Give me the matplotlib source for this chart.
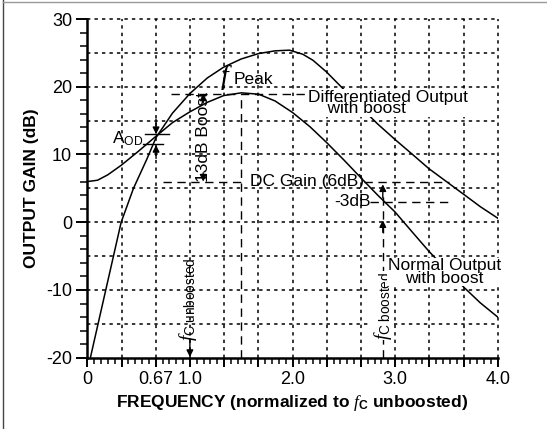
import numpy as np
import matplotlib
matplotlib.use('Agg')
import matplotlib.pyplot as plt
from matplotlib.lines import Line2D

plt.rcParams['font.family'] = ['Liberation Sans', 'DejaVu Sans']
plt.rcParams['mathtext.fontset'] = 'custom'
plt.rcParams['mathtext.rm'] = 'Liberation Sans'
plt.rcParams['mathtext.it'] = 'Liberation Serif:italic'
plt.rcParams['mathtext.bf'] = 'Liberation Sans:bold'

# ---------------- data ----------------
normal_x = [0.00, 0.10, 0.20, 0.33, 0.50, 0.67, 0.83, 1.00, 1.17, 1.33, 1.50, 1.67,
            1.83, 2.00, 2.17, 2.33, 2.50, 2.67, 2.83, 3.00, 3.17, 3.33, 3.50, 3.67,
            3.83, 4.00]
normal_db = [6.0, 6.2, 7.0, 8.4, 10.5, 12.7, 14.7, 16.3, 17.7, 18.7, 19.1, 18.9,
             17.9, 16.2, 14.1, 11.8, 9.2, 6.5, 4.0, 1.5, -1.5, -4.3, -7.0, -9.6,
             -11.9, -14.0]

diff_x = [0.03, 0.18, 0.33, 0.45, 0.58, 0.67, 0.83, 1.00, 1.17, 1.33, 1.50, 1.67,
          1.83, 1.97, 2.10, 2.20, 2.33, 2.50, 2.67, 2.83, 3.00, 3.17, 3.33, 3.50,
          3.67, 3.83, 4.00]
diff_db = [-20.0, -10.0, 0.0, 5.0, 9.3, 12.5, 16.1, 19.0, 21.3, 22.9, 24.1, 24.9,
           25.3, 25.4, 24.8, 23.9, 22.2, 19.6, 16.9, 14.5, 12.2, 10.0, 7.9, 6.0,
           4.1, 2.3, 0.6]

x_tick_pos = [0, 1/3, 2/3, 1, 4/3, 5/3, 2, 7/3, 8/3, 3, 10/3, 11/3, 4]
x_tick_labels = ['0', '', '0.67', '1.0', '', '', '2.0', '', '', '3.0', '', '', '4.0']
y_tick_pos = [-20, -10, 0, 10, 20, 30]
y_tick_labels = ['-20', '-10', '0', '10', '20', '30']
y_grid = [-15, -10, -5, 0, 5, 10, 15, 20, 25, 30]

dc_gain = 6.0
peak_gain = 19.0
minus3_gain = 3.0
f_peak = 1.5
fc_unboosted = 1.0
fc_boosted = 2.88

# ---------------- figure ----------------
fig = plt.figure(figsize=(5.47, 4.29), dpi=100)
ax = fig.add_axes([0.1596, 0.1662, 0.7503, 0.7895])
ax.set_xlim(0, 4)
ax.set_ylim(-20, 30)

grid_kw = dict(color='black', lw=1.1, ls=(0, (2.2, 2.7)), zorder=1, clip_on=False)
for v in y_grid:
    ax.axhline(v, **grid_kw)
for v in x_tick_pos[1:]:
    ax.axvline(v, **grid_kw)

ax.plot(normal_x, normal_db, color='black', lw=1.1, zorder=3)
ax.plot(diff_x, diff_db, color='black', lw=1.1, zorder=3)

for s in ['top', 'right']:
    ax.spines[s].set_visible(False)
for s in ['left', 'bottom']:
    ax.spines[s].set_linewidth(1.8)
    ax.spines[s].set_zorder(4)

ax.set_xticks(x_tick_pos)
ax.set_xticklabels(x_tick_labels)
ax.set_xticks(np.arange(0, 4.0001, 1/15), minor=True)
ax.set_yticks(y_tick_pos)
ax.set_yticklabels(y_tick_labels)
ax.set_yticks(np.arange(-20, 30.1, 2), minor=True)
ax.tick_params(axis='x', which='major', direction='out', length=6.5, width=1.4,
               pad=3, labelsize=13)
ax.tick_params(axis='x', which='minor', direction='out', length=4, width=1.1)
ax.tick_params(axis='y', which='major', direction='out', length=8, width=1.4,
               pad=3, labelsize=13)
ax.tick_params(axis='y', which='minor', direction='out', length=5, width=1.1)

ax.set_xlabel(r'FREQUENCY (normalized to $f_{\mathbf{C}}$ unboosted)',
              fontsize=12.5, fontweight='bold', labelpad=4)
ax.set_ylabel('OUTPUT GAIN (dB)', fontsize=12.5, fontweight='bold', labelpad=5)

arrow_kw = dict(arrowstyle='-|>', color='black', lw=1.0, mutation_scale=10,
                shrinkA=0, shrinkB=0)
dash_kw = dict(color='black', lw=1.0, ls=(0, (6, 4)), zorder=2)
white_box = dict(facecolor='white', edgecolor='none', pad=0.3)

# A_OD annotation
ax.annotate('', xy=(0.67, 13.0), xytext=(0.67, 15.2), arrowprops=arrow_kw)
ax.annotate('', xy=(0.67, 11.4), xytext=(0.67, 9.4), arrowprops=arrow_kw)
ax.plot([0.56, 0.80], [13.0, 13.0], color='black', lw=1.0)
ax.plot([0.54, 0.74], [11.5, 11.5], color='black', lw=1.0)
ax.text(0.39, 12.3, r'A$_{\rm OD}$', fontsize=12.5, ha='center', va='center')

# 13 dB boost
ax.text(1.13, (dc_gain + peak_gain) / 2, '13dB Boost', rotation=90, fontsize=12.5,
        ha='center', va='center')
ax.annotate('', xy=(1.13, peak_gain), xytext=(1.13, 17.6), arrowprops=arrow_kw)
ax.annotate('', xy=(1.13, dc_gain), xytext=(1.13, 7.3), arrowprops=arrow_kw)

# peak level and f_peak
ax.plot([0.82, 2.14], [peak_gain, peak_gain], **dash_kw)
ax.plot([f_peak, f_peak], [-20, peak_gain], **dash_kw)
ax.text(1.36, 21.4, r'$f$', fontsize=20, ha='center', va='center')
ax.text(1.43, 20.4, 'Peak', fontsize=12.5, ha='left', va='baseline')

# DC gain and -3 dB lines
ax.plot([0.74, 1.55], [dc_gain, dc_gain], **dash_kw)
ax.text(2.70, dc_gain, 'DC Gain (6dB)', fontsize=12.5, ha='right', va='center')
ax.plot([2.70, 3.53], [dc_gain, dc_gain], **dash_kw)
ax.text(2.76, minus3_gain, '-3dB', fontsize=12.5, ha='right', va='center')
ax.plot([2.76, 3.53], [minus3_gain, minus3_gain], **dash_kw)

# f_C boosted
ax.plot([fc_boosted, fc_boosted], [-20, 5.0], **dash_kw)
ax.annotate('', xy=(fc_boosted, 5.6), xytext=(fc_boosted, 3.6), arrowprops=arrow_kw)
ax.annotate('', xy=(fc_boosted, 0.3), xytext=(fc_boosted, -1.5), arrowprops=arrow_kw)
ax.text(fc_boosted, -12.3, r'$f_{\rm C\ boosted}$', fontsize=14, rotation=90,
        ha='center', va='center', zorder=6, bbox=white_box)

# f_C unboosted
ax.text(0.985, -11.3, r'$f_{\rm C\ unboosted}$', fontsize=14, rotation=90,
        ha='center', va='center')
ax.annotate('', xy=(fc_unboosted, -19.9), xytext=(fc_unboosted, -17.2),
            arrowprops=arrow_kw)

# curve labels (white background hides the curve beneath, as in the reference)
ax.text(2.155, 17.6, 'Differentiated Output\n    with boost', fontsize=12.5,
        ha='left', va='center', multialignment='left', linespacing=0.72,
        zorder=6, bbox=white_box)
ax.text(3.48, -7.35, 'Normal Output\nwith boost', fontsize=12.5,
        ha='center', va='center', multialignment='center', linespacing=0.8,
        zorder=6, bbox=white_box)

# page border
fig.add_artist(Line2D([3 / 547, 3 / 547], [0, 1], color='#444444', lw=1.0))
fig.add_artist(Line2D([3 / 547, 1], [1 - 1.5 / 429, 1 - 1.5 / 429], color='#999999', lw=1.0))

fig.savefig('out.png', dpi=100)
